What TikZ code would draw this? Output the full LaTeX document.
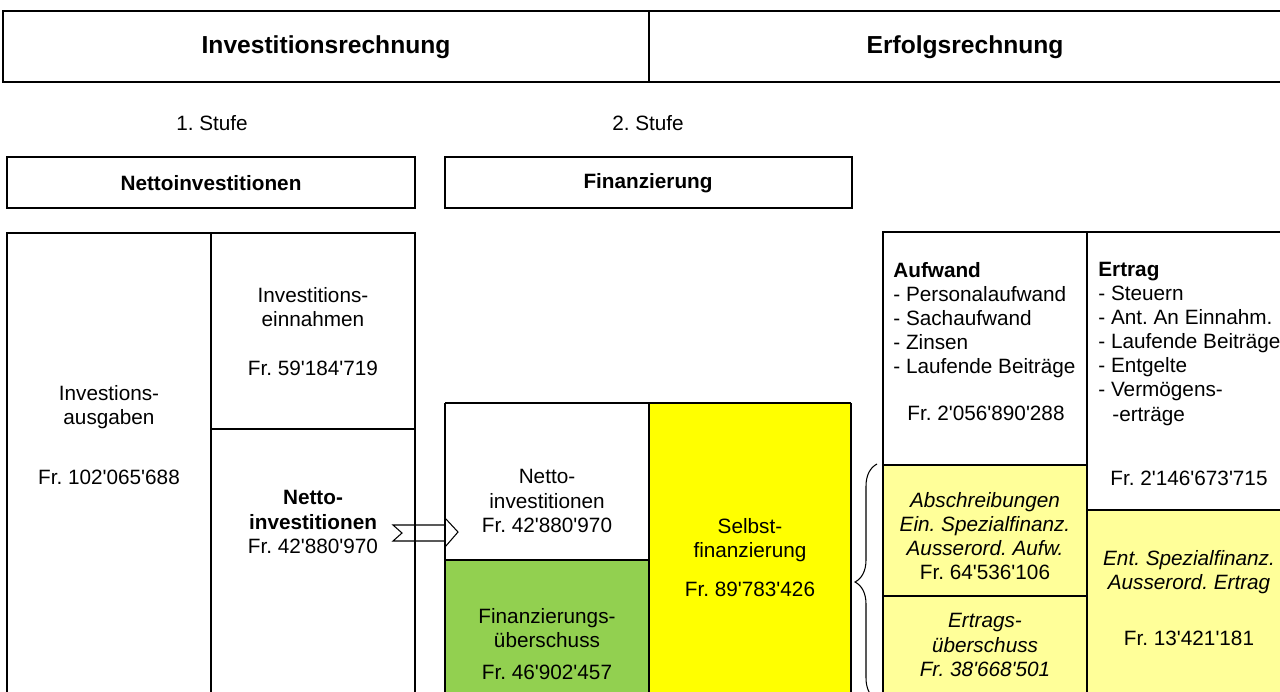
\documentclass[tikz,border=0pt]{standalone}
\usepackage{fontspec}
\newfontfamily\lsans{Liberation Sans}
\usetikzlibrary{decorations.pathreplacing}

\definecolor{finGreen}{HTML}{92D050}
\definecolor{selbstYellow}{HTML}{FFFF00}
\definecolor{paleYellow}{HTML}{FFFF99}

\newcommand{\txtsize}{\lsans\frenchspacing\fontsize{11.8}{13.7}\selectfont}
\newcommand{\headsize}{\lsans\fontsize{14}{16}\selectfont\bfseries}

\begin{document}
\begin{tikzpicture}[
    x=0.02cm, y=-0.02cm,
    every node/.style={font=\txtsize, inner sep=0pt, align=center},
    outer/.style={line width=1.4pt},
    inner/.style={line width=0.7pt},
    mid/.style={line width=1.1pt}
]
\useasboundingbox (0,0) rectangle (1280,691);
\clip (0,0) rectangle (1280,691);

% Coloured cells
\fill[finGreen] (445,560) rectangle (649,700);
\fill[selbstYellow] (649,403) rectangle (851,700);
\fill[paleYellow] (883,465) rectangle (1087,700);
\fill[paleYellow] (1087,510) rectangle (1300,700);

% Block arrow between the two Netto cells
\draw[fill=white, line width=0.6pt] (393,525) -- (445,525) -- (445,518) -- (458,532)
    -- (445,547) -- (445,541) -- (393,541) -- (402,533) -- cycle;

% Top header
\draw[outer] (1300,11) -- (3,11) -- (3,82) -- (1300,82);
\draw[inner] (649,11) -- (649,82);
\node[font=\headsize] (invRech) at (326,47) {Investitionsrechnung};
\node[font=\headsize] (erfRech) at (965,47) {Erfolgsrechnung};

% Stufen
\node (stufeA) at (212,123) {1. Stufe};
\node (stufeB) at (648,123) {2. Stufe};

% Small headers
\draw[outer] (7,157) rectangle (415,208);
\draw[outer] (445,157) rectangle (852,208);
\node[font=\txtsize\bfseries] (nettoHead) at (211,183) {Nettoinvestitionen};
\node[font=\txtsize\bfseries] (finHead) at (648,183) {Finanzierung};

% Investitionsrechnung table
\draw[outer] (7,700) -- (7,233) -- (415,233) -- (415,700);
\draw[inner] (211,233) -- (211,700);
\draw[inner] (211,429) -- (415,429);
\node (ausgaben) at (109,435) {Investions-\\ausgaben\\[0.72cm]Fr. 102'065'688};
\node (einnahmen) at (313,332) {Investitions-\\einnahmen\\[0.5cm]Fr. 59'184'719};
\node (nettoA) at (313,522) {\textbf{Netto-}\\\textbf{investitionen}\\Fr. 42'880'970};

% Finanzierung table
\draw[outer] (445,700) -- (445,403);
\draw[outer] (851,403) -- (851,700);
\draw[inner] (445,403) -- (851,403);
\draw[inner] (649,403) -- (649,700);
\draw[mid] (445,560) -- (649,560);
\node (nettoB) at (547,501) {Netto-\\investitionen\\Fr. 42'880'970};
\node (ueberschuss) at (547,644) {Finanzierungs-\\überschuss\\[0.16cm]Fr. 46'902'457};
\node (selbst) at (750,558) {Selbst-\\finanzierung\\[0.3cm]Fr. 89'783'426};

% Brace
\draw[line width=0.6pt, decorate, decoration={brace, amplitude=0.44cm}] (877,700) -- (877,464);

% Erfolgsrechnung table
\draw[outer] (883,700) -- (883,232) -- (1300,232);
\draw[inner] (1087,232) -- (1087,700);
\draw[mid] (883,465) -- (1087,465);
\draw[mid] (883,596) -- (1087,596);
\draw[mid] (1087,510) -- (1300,510);
\node[align=left, anchor=north west] (aufwand) at (893,262)
    {\textbf{Aufwand}\\- Personalaufwand\\- Sachaufwand\\- Zinsen\\- Laufende Beiträge};
\node (aufwandFr) at (986,413) {Fr. 2'056'890'288};
\node[align=left, anchor=north west] (ertrag) at (1098,262)
    {\textbf{Ertrag}\\- Steuern\\- Ant. An Einnahm.\\- Laufende Beiträge\\- Entgelte\\- Vermögens-\\\hspace*{0.28cm}-erträge};
\node (ertragFr) at (1189,478) {Fr. 2'146'673'715};
\node (abschr) at (985,536) {\itshape Abschreibungen\\\itshape Ein. Spezialfinanz.\\\itshape Ausserord. Aufw.\\Fr. 64'536'106};
\node (ertrUeb) at (985,645) {\itshape Ertrags-\\\itshape überschuss\\\itshape Fr. 38'668'501};
\node (entSpez) at (1189,572) {\itshape Ent. Spezialfinanz.\\\itshape Ausserord. Ertrag};
\node (entFr) at (1189,638) {Fr. 13'421'181};

\end{tikzpicture}
\end{document}
